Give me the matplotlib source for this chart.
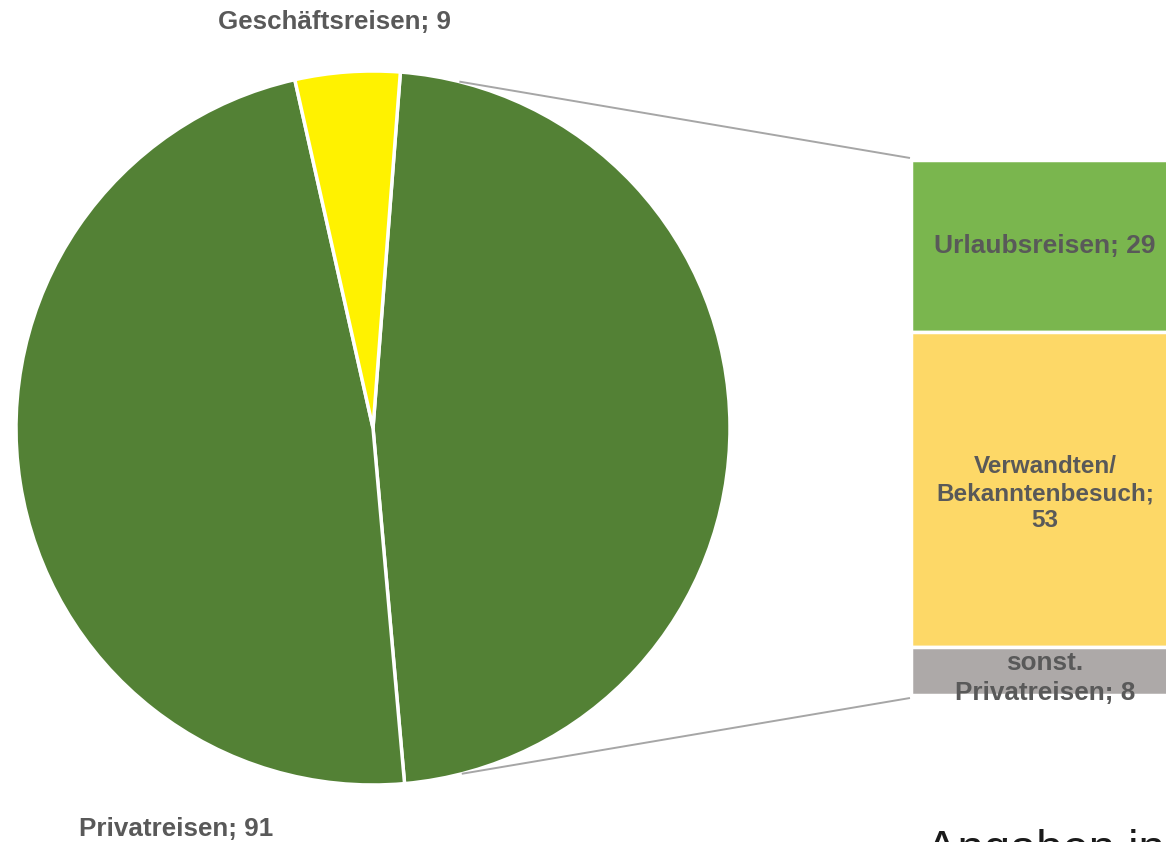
import numpy as np
import matplotlib
matplotlib.use("Agg")
import matplotlib.pyplot as plt

# Main pie: business trips, private trips, and the broken-out remainder
pie_labels = ["", "Privatreisen", "Geschäftsreisen"]
pie_values = [90, 91, 9]

# Breakdown bar (top to bottom)
bar_labels = ["Urlaubsreisen", "Verwandten/\nBekanntenbesuch;", "sonst.\nPrivatreisen"]
bar_values = [29, 53, 8]

DARK_GREEN = "#538135"
YELLOW = "#FFF200"
LIGHT_GREEN = "#7AB64E"
GOLD = "#FDD867"
GREY = "#ADA9A8"
TEXT = "#595959"

plt.rcParams["font.family"] = ["Liberation Sans", "DejaVu Sans"]

W, H = 1166, 842
fig = plt.figure(figsize=(W / 100, H / 100), dpi=100)
ax = fig.add_axes([0, 0, 1, 1])

cx, cy, r = 373, 414, 357
start = 85.6
ax.pie(pie_values, colors=[DARK_GREEN, DARK_GREEN, YELLOW], startangle=start,
       counterclock=False, center=(cx, cy), radius=r,
       wedgeprops=dict(edgecolor="white", linewidth=2.5))

# Stacked breakdown bar
bar_x, bar_w = 1044, 266
bar_bottom, bar_top = 147, 682
scale = (bar_top - bar_bottom) / sum(bar_values)
bottom = bar_top
for lab, val, col in zip(bar_labels, bar_values, [LIGHT_GREEN, GOLD, GREY]):
    h = val * scale
    bottom -= h
    ax.bar(bar_x, h, width=bar_w, bottom=bottom, color=col,
           edgecolor="white", linewidth=2.5)
    ymid = bottom + h / 2
    tx = bar_x + 1
    if lab.startswith("Verwandten"):
        txt = f"{lab}\n{val}"
        fs = 17.5
        ls = 1.22
        ymid -= 4
    elif lab.startswith("sonst"):
        txt = f"{lab}; {val}"
        fs = 18.8
        ls = 1.3
        ymid -= 7
    else:
        txt = f"{lab}; {val}"
        fs = 19
        ls = 1.0
    ax.text(tx, ymid, txt, ha="center", va="center", fontsize=fs,
            fontweight="bold", color=TEXT, linespacing=ls)

# Connector lines from the broken-out slice to the bar
def edge_point(deg_from_top):
    a = np.deg2rad(deg_from_top)
    return cx + r * np.sin(a), cy + r * np.cos(a)

x0, y0 = edge_point(14)
x1, y1 = edge_point(165.6)
ax.plot([x0, 910], [y0, 684], color="#A6A6A6", lw=1.4, solid_capstyle="butt")
ax.plot([x1, 910], [y1, 144], color="#A6A6A6", lw=1.4, solid_capstyle="butt")

# Slice labels
ax.text(334, 842 - 22, f"{pie_labels[2]}; {pie_values[2]}", ha="center",
        va="center", fontsize=18.7, fontweight="bold", color=TEXT)
ax.text(176, 842 - 829, f"{pie_labels[1]}; {pie_values[1]}", ha="center",
        va="center", fontsize=18.7, fontweight="bold", color=TEXT)

ax.text(926, 842 - 863, "Angaben in %", ha="left", va="baseline",
        fontsize=34, color="#1a1a1a", clip_on=False)

ax.set_xlim(0, W)
ax.set_ylim(0, H)
ax.set_aspect("auto")
ax.axis("off")

fig.savefig("out.png", dpi=100, facecolor="white")
